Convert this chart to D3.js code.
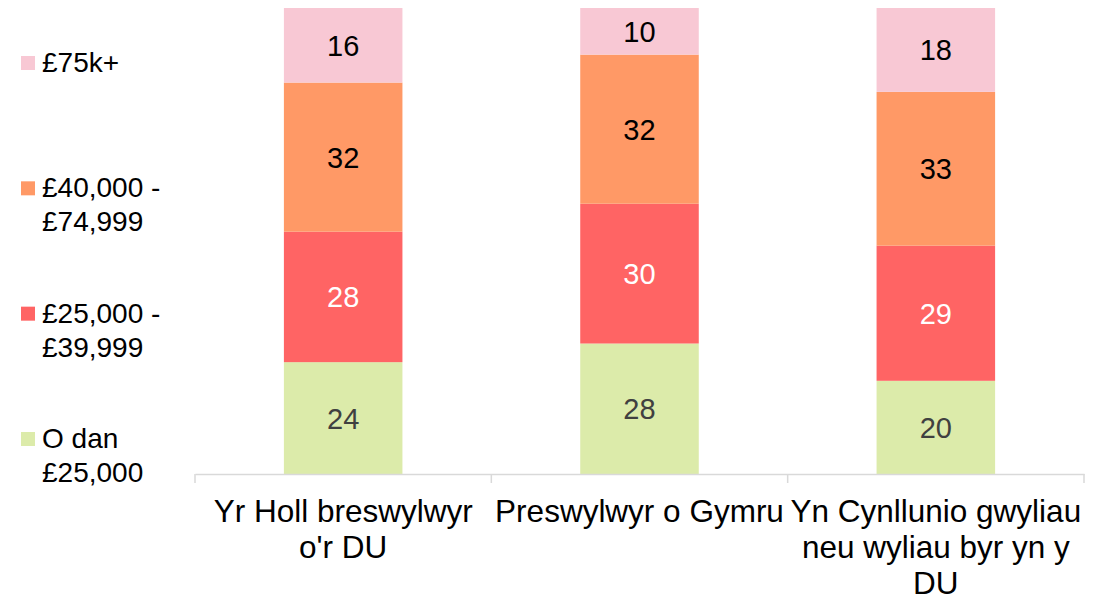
<!DOCTYPE html>
<html lang="en">

<head>
    <meta charset="UTF-8">
    <title>Incwm</title>
    <script src="https://cdn.jsdelivr.net/npm/d3@7"></script>
    <style>
        body {
            margin: 0;
            background-color: #fff;
        }

        svg text {
            font-family: "Liberation Sans", Arial, sans-serif;
        }
    </style>
</head>

<body>
    <script>
        // categories along the x axis
        var categories = ["Yr Holl breswylwyr o'r DU", "Preswylwyr o Gymru", "Yn Cynllunio gwyliau neu wyliau byr yn y DU"];
        // series, bottom to top
        var series = ["O dan £25,000", "£25,000 - £39,999", "£40,000 - £74,999", "£75k+"];
        var seriesColors = ["#dcebaa", "#ff6464", "#ff9966", "#f8c8d4"];
        var labelColors = ["#404040", "#ffffff", "#000000", "#000000"];
        // values per series, one per category
        var under25 = [24, 28, 20];
        var from25to40 = [28, 30, 29];
        var from40to75 = [32, 32, 33];
        var over75 = [16, 10, 18];

        var width = 1109,
            height = 601;

        var svg = d3.select("body").append("svg")
            .attr("width", width)
            .attr("height", height);

        var rows = categories.map(function (c, i) {
            return {
                cat: c,
                s0: under25[i],
                s1: from25to40[i],
                s2: from40to75[i],
                s3: over75[i]
            };
        });
        var keys = ["s0", "s1", "s2", "s3"];
        var stacked = d3.stack().keys(keys)(rows);

        var x = d3.scaleBand().domain(categories).range([195, 1084]).padding(0);
        var y = d3.scaleLinear().domain([0, 100]).range([474, 8]);
        var barW = x.bandwidth() * 0.4;

        // bars
        var layers = svg.append("g").selectAll("g")
            .data(stacked)
            .enter()
            .append("g")
            .attr("fill", function (d, i) {
                return seriesColors[i];
            });
        layers.selectAll("rect")
            .data(function (d) { return d; })
            .enter()
            .append("rect")
            .attr("x", function (d) {
                return x(d.data.cat) + (x.bandwidth() - barW) / 2;
            })
            .attr("y", function (d) { return y(d[1]); })
            .attr("width", barW)
            .attr("height", function (d) { return y(d[0]) - y(d[1]); });

        // value labels
        layers.selectAll("text")
            .data(function (d, i) {
                return d.map(function (p) { return { p: p, i: i }; });
            })
            .enter()
            .append("text")
            .attr("x", function (d) { return x(d.p.data.cat) + x.bandwidth() / 2; })
            .attr("y", function (d) { return (y(d.p[0]) + y(d.p[1])) / 2; })
            .attr("dy", "0.36em")
            .attr("text-anchor", "middle")
            .style("font-size", "29px")
            .style("fill", function (d) { return labelColors[d.i]; })
            .text(function (d) { return d.p[1] - d.p[0]; });

        // x axis: baseline plus ticks at the band edges
        var axis = svg.append("g")
            .attr("transform", "translate(0," + y(0) + ")")
            .call(d3.axisBottom(x).tickSize(0).tickSizeOuter(0).tickFormat(""));
        axis.select(".domain").attr("stroke", "#d9d9d9").attr("stroke-width", 1.5);
        var edges = categories.map(function (c) { return x(c); }).concat([x.range()[1]]);
        axis.selectAll("line.edge")
            .data(edges)
            .enter()
            .append("line")
            .attr("class", "edge")
            .attr("x1", function (d) { return d; })
            .attr("x2", function (d) { return d; })
            .attr("y1", 0)
            .attr("y2", 9)
            .attr("stroke", "#d9d9d9")
            .attr("stroke-width", 1.5);

        function wrap(sel, maxW, lineH) {
            sel.each(function (d) {
                var t = d3.select(this),
                    words = t.text().split(" "),
                    line = [],
                    tspan = t.text(null).append("tspan").attr("x", t.attr("x")).attr("dy", 0),
                    n = 0;
                words.forEach(function (w) {
                    line.push(w);
                    tspan.text(line.join(" "));
                    if (tspan.node().getComputedTextLength() > maxW && line.length > 1) {
                        line.pop();
                        tspan.text(line.join(" "));
                        line = [w];
                        n++;
                        tspan = t.append("tspan").attr("x", t.attr("x")).attr("dy", lineH).text(w);
                    }
                });
            });
        }

        axis.selectAll("text.cat")
            .data(categories)
            .enter()
            .append("text")
            .attr("class", "cat")
            .attr("x", function (d) { return x(d) + x.bandwidth() / 2; })
            .attr("y", 48)
            .attr("text-anchor", "middle")
            .style("font-size", "31.5px")
            .style("fill", "#000")
            .text(function (d) { return d; })
            .call(wrap, x.bandwidth(), 36);

        // legend on the left, top entry first
        var legendY = d3.scalePoint().domain(series.slice().reverse()).range([72, 448]);
        var legend = svg.append("g").selectAll("g")
            .data(series)
            .enter()
            .append("g")
            .attr("transform", function (d) { return "translate(0," + legendY(d) + ")"; });
        legend.append("rect")
            .attr("x", 21)
            .attr("y", -16)
            .attr("width", 14)
            .attr("height", 14)
            .attr("fill", function (d, i) { return seriesColors[i]; });
        legend.append("text")
            .attr("x", 42)
            .attr("y", 0)
            .style("font-size", "28px")
            .style("fill", "#000")
            .text(function (d) { return d; })
            .call(wrap, 140, 34);
    </script>
</body>

</html>
